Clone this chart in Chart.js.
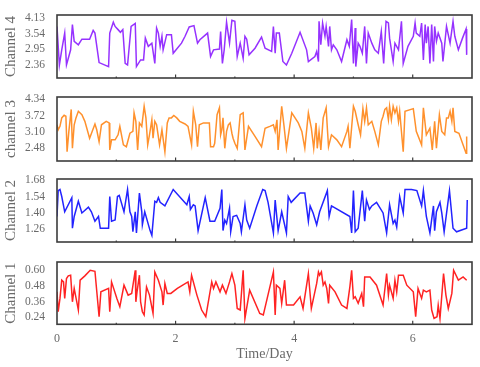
<!DOCTYPE html>
<html lang="en">
<head>
<meta charset="utf-8">
<script src="https://cdn.jsdelivr.net/npm/chart.js"></script>
<title>Channels</title>
<style>
  html, body { margin: 0; padding: 0; background: #fff; }
  .wrap { position: relative; width: 480px; height: 367px; overflow: hidden; }
  canvas { position: absolute; left: 0; }
</style>
</head>
<body>
<div class="wrap">
  <canvas id="ch4" width="480" height="75" style="top:9px"></canvas>
  <canvas id="ch3" width="480" height="76" style="top:91px"></canvas>
  <canvas id="ch2" width="480" height="75" style="top:173px"></canvas>
  <canvas id="ch1" width="480" height="111" style="top:256px"></canvas>
</div>
<script>
// time axis
const dayTicks = [0, 2, 4, 6];

// Channel 4 (purple)
const ch4Days = [0.00,0.04,0.08,0.13,0.16,0.23,0.26,0.29,0.36,0.42,0.55,0.61,0.64,0.71,0.87,0.89,0.95,0.98,1.03,1.07,1.11,1.15,1.19,1.25,1.32,1.34,1.41,1.46,1.49,1.54,1.60,1.65,1.68,1.71,1.74,1.77,1.79,1.85,1.93,1.96,2.10,2.16,2.23,2.31,2.37,2.41,2.54,2.59,2.64,2.74,2.76,2.79,2.82,2.86,2.91,2.95,3.00,3.04,3.09,3.14,3.17,3.20,3.24,3.34,3.45,3.51,3.62,3.65,3.68,3.70,3.75,3.81,3.87,3.96,4.10,4.21,4.24,4.35,4.38,4.41,4.42,4.45,4.48,4.52,4.54,4.56,4.58,4.60,4.63,4.66,4.72,4.80,4.89,4.93,4.97,5.00,5.03,5.04,5.08,5.11,5.15,5.19,5.22,5.25,5.31,5.36,5.42,5.47,5.51,5.55,5.59,5.61,5.67,5.70,5.76,5.81,5.84,5.92,6.01,6.04,6.06,6.12,6.15,6.18,6.21,6.23,6.26,6.29,6.32,6.35,6.37,6.40,6.43,6.49,6.51,6.57,6.63,6.68,6.71,6.77,6.84,6.90,6.91];
const ch4Vals = [3.81,2.36,2.93,3.56,2.36,2.93,3.88,3.25,3.12,3.33,3.33,3.66,3.56,2.45,2.30,3.56,3.97,3.81,3.69,3.59,3.69,2.42,2.36,3.81,3.92,2.30,2.55,2.55,3.37,3.06,3.18,2.42,3.75,3.56,3.06,3.44,2.93,3.50,3.50,2.80,3.18,3.44,3.79,3.84,3.18,3.31,3.56,2.68,2.93,2.96,3.62,2.42,2.93,3.97,3.18,4.04,4.00,2.68,3.18,2.61,3.44,3.33,2.74,2.99,3.41,2.99,2.87,3.81,2.80,3.56,3.56,2.49,2.36,2.80,3.59,2.93,2.49,2.68,2.87,2.49,4.00,3.12,3.94,3.44,3.81,3.44,3.06,3.81,2.93,3.12,2.93,2.49,3.31,3.06,4.07,2.42,3.75,2.30,3.18,3.06,2.80,3.81,2.42,3.56,3.18,2.93,2.80,3.62,2.42,4.00,3.94,3.37,2.49,3.18,2.93,4.00,2.42,3.06,3.44,3.94,3.56,3.44,3.94,2.55,3.88,3.18,3.81,2.42,3.88,2.49,3.81,3.25,3.56,3.18,2.49,3.81,3.18,4.00,3.44,2.93,3.37,3.71,2.74];
const ch4Ticks = [2.36, 2.95, 3.54, 4.13];

// channel 3 (orange)
const ch3Days = [0.00,0.02,0.05,0.08,0.12,0.15,0.17,0.20,0.24,0.26,0.29,0.32,0.36,0.42,0.47,0.55,0.64,0.67,0.71,0.75,0.83,0.88,0.89,0.92,0.98,1.03,1.06,1.12,1.17,1.23,1.28,1.30,1.33,1.36,1.39,1.43,1.47,1.50,1.53,1.56,1.60,1.62,1.65,1.68,1.73,1.77,1.82,1.86,1.89,1.93,1.97,2.02,2.07,2.16,2.21,2.27,2.30,2.34,2.37,2.40,2.47,2.57,2.59,2.64,2.66,2.70,2.74,2.76,2.78,2.80,2.83,2.86,2.89,2.92,2.95,2.97,3.00,3.04,3.09,3.14,3.17,3.23,3.34,3.45,3.51,3.59,3.65,3.68,3.71,3.73,3.79,3.83,3.87,3.96,4.07,4.13,4.18,4.24,4.29,4.33,4.37,4.39,4.42,4.45,4.49,4.54,4.56,4.58,4.63,4.72,4.80,4.89,4.91,4.94,5.00,5.03,5.08,5.12,5.16,5.19,5.22,5.25,5.31,5.36,5.42,5.47,5.50,5.53,5.56,5.59,5.61,5.64,5.67,5.70,5.73,5.76,5.78,5.84,5.87,6.01,6.06,6.15,6.18,6.23,6.29,6.33,6.37,6.40,6.45,6.49,6.54,6.57,6.60,6.63,6.66,6.68,6.71,6.78,6.90,6.91];
const ch3Vals = [3.37,3.18,3.31,3.63,3.73,3.69,2.35,3.12,3.95,2.48,3.37,3.63,3.88,3.75,3.50,2.86,3.40,3.18,2.73,3.37,3.50,3.44,2.42,2.80,2.80,2.99,3.31,2.61,2.54,3.05,3.12,3.82,3.50,2.42,3.44,3.31,4.07,3.63,2.61,2.99,3.56,2.86,3.50,3.37,2.61,3.18,2.35,3.44,3.63,3.63,3.72,3.63,3.50,3.40,3.31,2.61,3.88,3.37,2.54,3.37,3.44,3.44,2.54,2.54,2.67,3.75,4.01,2.99,3.18,3.63,2.48,3.12,3.37,3.44,3.05,2.86,2.67,2.48,3.75,3.82,2.42,3.31,2.93,2.54,3.24,3.31,3.37,3.12,3.56,2.42,4.07,3.31,2.48,3.82,3.44,3.12,2.48,3.82,3.24,2.48,3.44,2.48,3.12,2.42,3.63,4.01,3.24,2.54,2.99,2.80,2.54,3.12,3.31,2.48,4.07,3.88,3.37,2.99,3.98,3.50,4.01,3.37,3.50,3.12,2.61,3.50,3.69,3.95,4.01,3.56,4.07,3.56,4.07,3.82,4.01,3.50,3.88,2.35,3.88,3.98,3.12,2.61,4.01,2.99,3.24,2.42,3.50,2.48,3.75,3.12,2.99,3.63,3.63,3.88,3.50,4.01,3.12,3.05,2.29,2.93];
const ch3Ticks = [2.48, 3.10, 3.72, 4.34];

// Channel 2 (blue)
const ch2Days = [0.00,0.02,0.05,0.08,0.13,0.25,0.26,0.29,0.36,0.42,0.53,0.58,0.64,0.70,0.73,0.87,0.89,0.92,0.98,1.02,1.05,1.13,1.19,1.23,1.26,1.28,1.32,1.34,1.39,1.43,1.44,1.48,1.57,1.60,1.65,1.68,1.71,1.74,1.82,1.96,2.19,2.23,2.25,2.30,2.33,2.38,2.50,2.58,2.66,2.75,2.78,2.80,2.83,2.86,2.91,2.93,2.97,3.03,3.09,3.11,3.17,3.20,3.25,3.37,3.47,3.51,3.56,3.65,3.68,3.73,3.79,3.87,3.90,3.95,4.10,4.18,4.24,4.27,4.32,4.38,4.43,4.56,4.59,4.63,4.94,4.97,5.00,5.03,5.08,5.15,5.19,5.22,5.27,5.31,5.39,5.50,5.56,5.61,5.67,5.70,5.73,5.78,5.84,5.87,5.98,6.07,6.15,6.18,6.23,6.29,6.35,6.37,6.40,6.46,6.49,6.53,6.62,6.68,6.74,6.91,6.92];
const ch2Vals = [1.37,1.59,1.60,1.54,1.41,1.53,1.27,1.37,1.50,1.40,1.45,1.41,1.33,1.37,1.27,1.27,1.54,1.33,1.34,1.54,1.55,1.41,1.60,1.41,1.37,1.24,1.41,1.23,1.57,1.41,1.30,1.41,1.25,1.21,1.50,1.49,1.53,1.49,1.46,1.60,1.47,1.54,1.43,1.47,1.46,1.25,1.53,1.33,1.33,1.44,1.60,1.25,1.34,1.31,1.44,1.24,1.37,1.38,1.31,1.24,1.47,1.34,1.27,1.46,1.60,1.59,1.49,1.23,1.51,1.25,1.41,1.23,1.54,1.49,1.57,1.57,1.33,1.46,1.40,1.30,1.41,1.59,1.37,1.46,1.37,1.23,1.59,1.24,1.27,1.59,1.33,1.51,1.43,1.46,1.49,1.40,1.23,1.47,1.31,1.34,1.28,1.54,1.40,1.60,1.60,1.59,1.46,1.59,1.37,1.23,1.46,1.25,1.41,1.49,1.40,1.24,1.59,1.27,1.24,1.27,1.51];
const ch2Ticks = [1.26, 1.40, 1.54, 1.68];

// Channel 1 (red)
const ch1Days = [0.00,0.02,0.05,0.08,0.11,0.13,0.16,0.19,0.23,0.26,0.29,0.36,0.39,0.47,0.56,0.64,0.71,0.74,0.87,0.89,0.92,1.01,1.06,1.13,1.20,1.26,1.32,1.33,1.35,1.39,1.41,1.44,1.47,1.51,1.56,1.62,1.65,1.71,1.77,1.79,1.82,1.86,1.92,2.03,2.21,2.24,2.27,2.36,2.44,2.51,2.61,2.64,2.68,2.75,2.79,2.85,2.91,2.95,3.00,3.04,3.09,3.14,3.17,3.25,3.42,3.48,3.65,3.68,3.70,3.76,3.79,3.84,3.87,3.99,4.10,4.15,4.24,4.29,4.38,4.41,4.43,4.46,4.49,4.52,4.55,4.58,4.60,4.69,4.80,4.89,4.94,4.97,5.00,5.03,5.08,5.14,5.17,5.19,5.28,5.39,5.50,5.56,5.59,5.61,5.67,5.70,5.73,5.76,5.84,5.90,6.01,6.05,6.09,6.15,6.18,6.23,6.29,6.32,6.36,6.41,6.43,6.46,6.52,6.56,6.60,6.66,6.69,6.77,6.85,6.91];
const ch1Vals = [0.435,0.283,0.385,0.524,0.511,0.385,0.537,0.557,0.562,0.359,0.461,0.296,0.524,0.557,0.600,0.592,0.245,0.435,0.461,0.283,0.511,0.385,0.321,0.486,0.410,0.423,0.600,0.359,0.435,0.562,0.359,0.283,0.258,0.473,0.410,0.270,0.587,0.524,0.435,0.334,0.499,0.423,0.423,0.461,0.511,0.435,0.562,0.410,0.296,0.245,0.511,0.461,0.511,0.435,0.486,0.423,0.511,0.575,0.486,0.308,0.296,0.600,0.232,0.448,0.270,0.258,0.587,0.258,0.486,0.461,0.347,0.524,0.334,0.334,0.397,0.308,0.575,0.308,0.499,0.587,0.562,0.587,0.486,0.511,0.461,0.347,0.486,0.435,0.334,0.308,0.473,0.600,0.385,0.397,0.347,0.423,0.321,0.549,0.549,0.486,0.334,0.575,0.410,0.486,0.385,0.524,0.435,0.562,0.562,0.486,0.435,0.245,0.461,0.385,0.448,0.435,0.448,0.296,0.232,0.245,0.334,0.232,0.575,0.410,0.308,0.423,0.600,0.524,0.549,0.524];
const ch1Ticks = [0.24, 0.36, 0.48, 0.60];

const textColor = '#6a6a6a';
const serif = "'Liberation Serif', 'DejaVu Serif', serif";

const framePlugin = {
    id: 'frame',
    afterDraw(chart) {
        const ctx = chart.ctx;
        const a = chart.chartArea;
        const xs = chart.scales.x;
        ctx.save();
        ctx.strokeStyle = '#3c3c3c';
        ctx.lineWidth = 1.6;
        ctx.strokeRect(a.left, a.top, a.right - a.left, a.bottom - a.top);
        ctx.lineWidth = 1.2;
        for (let d = 1; d < 7; d++) {
            const x = xs.getPixelForValue(d);
            ctx.beginPath();
            ctx.moveTo(x, a.bottom);
            ctx.lineTo(x, a.bottom - (d % 2 === 0 ? 3.5 : 1.5));
            ctx.stroke();
        }
        ctx.restore();
    }
};

function makePanel(id, title, color, days, vals, ticks, yMin, yMax, showTime) {
    const points = days.map((d, i) => ({ x: d, y: vals[i] }));
    return new Chart(document.getElementById(id), {
        type: 'line',
        data: {
            datasets: [{
                data: points,
                borderColor: color,
                borderWidth: 1.5,
                pointRadius: 0,
                tension: 0,
                fill: false
            }]
        },
        options: {
            responsive: false,
            animation: false,
            layout: { padding: { top: 6, bottom: showTime ? 0 : 6, left: 0, right: 8 } },
            plugins: { legend: { display: false }, tooltip: { enabled: false } },
            scales: {
                x: {
                    type: 'linear',
                    min: 0,
                    max: 7,
                    display: showTime,
                    grid: { display: false, drawTicks: false },
                    border: { display: false },
                    afterBuildTicks: s => { s.ticks = dayTicks.map(v => ({ value: v })); },
                    afterFit: s => {
                        if (showTime) s.height = 42.7;
                        s.paddingLeft = 0; s.paddingRight = 0;
                    },
                    ticks: {
                        color: textColor,
                        padding: 7,
                        maxRotation: 0,
                        font: { family: serif, size: 12 }
                    },
                    title: {
                        display: showTime,
                        text: 'Time/Day',
                        color: textColor,
                        padding: { top: 0, bottom: 4 },
                        font: { family: serif, size: 14 }
                    }
                },
                y: {
                    min: yMin,
                    max: yMax,
                    grid: { display: false, drawTicks: false },
                    border: { display: false },
                    afterBuildTicks: s => { s.ticks = ticks.map(v => ({ value: v })); },
                    afterFit: s => {
                        s.width = 57;
                        s.paddingTop = 0; s.paddingBottom = 0;
                    },
                    ticks: {
                        color: textColor,
                        padding: 12,
                        autoSkip: false,
                        font: { family: serif, size: 11.5 },
                        callback: v => v.toFixed(2)
                    },
                    title: {
                        display: true,
                        text: title,
                        color: textColor,
                        padding: { top: 2, bottom: 2 },
                        font: { family: serif, size: 15 }
                    }
                }
            }
        },
        plugins: [framePlugin]
    });
}

makePanel('ch4', 'Channel 4', 'rgb(150, 50, 255)', ch4Days, ch4Vals, ch4Ticks, 1.87, 4.24, false);
makePanel('ch3', 'channel 3', 'rgb(255, 145, 45)', ch3Days, ch3Vals, ch3Ticks, 2.0, 4.42, false);
makePanel('ch2', 'Channel 2', 'rgb(35, 35, 255)', ch2Days, ch2Vals, ch2Ticks, 1.153, 1.689, false);
makePanel('ch1', 'Channel 1', 'rgb(255, 35, 35)', ch1Days, ch1Vals, ch1Ticks, 0.187, 0.663, true);
</script>
</body>
</html>
